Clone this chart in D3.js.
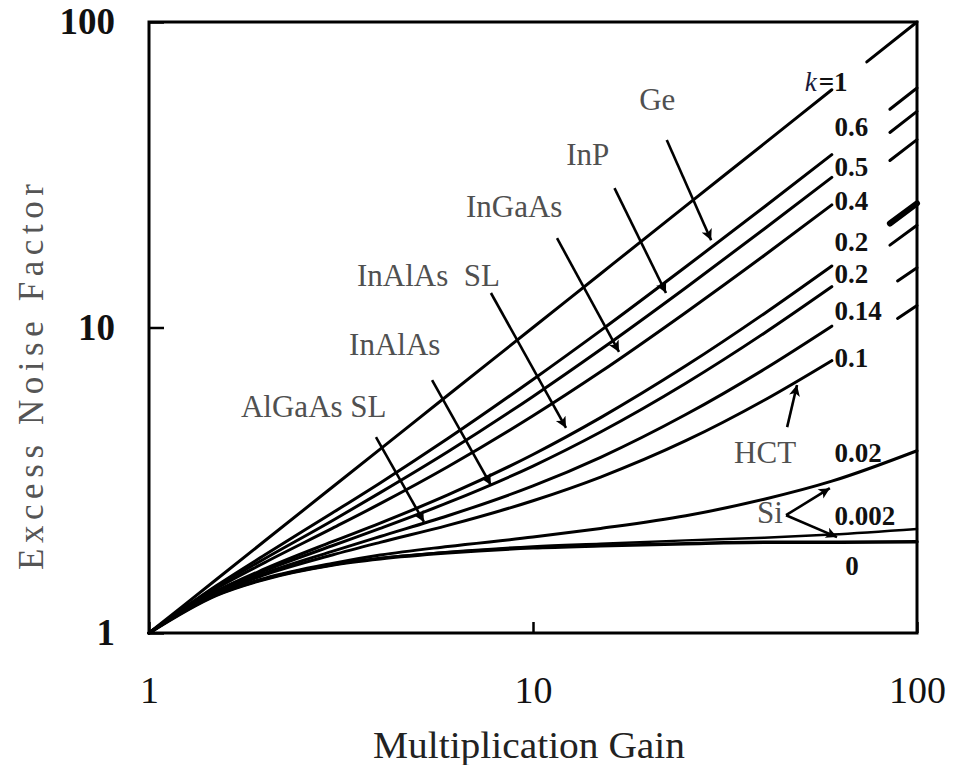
<!DOCTYPE html>
<html>
<head>
<meta charset="utf-8">
<script src="https://cdn.jsdelivr.net/npm/d3@7"></script>
<style>
  body { margin: 0; background: #fff; }
  text { font-family: "Liberation Serif", "Times New Roman", serif; }
</style>
</head>
<body>
<svg id="chart" width="954" height="765"></svg>
<script>
// Excess noise factor versus multiplication gain for several ionization ratios k.
const gainMain   = [1, 1.5, 2, 3, 4, 6, 10, 15, 25, 40, 60];
const noiseK1    = [1, 1.5, 2, 3, 4, 6, 10, 15, 25, 40, 60];
const noiseK06   = [1, 1.43, 1.8, 2.47, 3.1, 4.33, 6.76, 9.77, 15.8, 24.8, 36.8];
const noiseK05   = [1, 1.42, 1.75, 2.33, 2.88, 3.92, 5.95, 8.47, 13.5, 21.0, 31.0];
const noiseK04   = [1, 1.4, 1.7, 2.2, 2.65, 3.5, 5.14, 7.16, 11.2, 17.2, 25.2];
const noiseK024  = [1, 1.37, 1.62, 1.99, 2.29, 2.83, 3.84, 5.07, 7.49, 11.1, 15.9];
const noiseK02   = [1, 1.37, 1.6, 1.93, 2.2, 2.67, 3.52, 4.55, 6.57, 9.58, 13.6];
const noiseK014  = [1, 1.36, 1.57, 1.85, 2.07, 2.42, 3.03, 3.76, 5.19, 7.3, 10.1];
const noiseK01   = [1, 1.35, 1.55, 1.8, 1.98, 2.25, 2.71, 3.24, 4.26, 5.78, 7.79];

// Low-k curves run across the whole gain range
const gainFull    = [1, 1.5, 2, 3, 4, 6, 10, 15, 25, 40, 60, 100];
const noiseK002   = [1, 1.34, 1.51, 1.69, 1.8, 1.92, 2.06, 2.2, 2.42, 2.74, 3.14, 3.95];
const noiseK0002  = [1, 1.33, 1.5, 1.67, 1.76, 1.84, 1.92, 1.96, 2.01, 2.05, 2.1, 2.19];
const noiseK0     = [1, 1.33, 1.5, 1.67, 1.75, 1.83, 1.9, 1.93, 1.96, 1.98, 1.98, 1.99];

// Short continuations beyond the labels, near gain 100
const gainTailK1    = [74, 100];
const tailK1        = [74, 100];
const gainTail      = [85, 100];
const tailK06       = [51.8, 60.8];
const tailK05       = [43.5, 51.0];
const tailK04       = [35.2, 41.2];
const tailK024      = [21.9, 25.5];
const tailK02       = [18.6, 21.6];
const gainTailShort = [89, 100];
const tailK014      = [14.2, 15.7];
const tailK01       = [10.7, 11.8];

// Curve labels at the right end
const curveLabels = ["k=1", "0.6", "0.5", "0.4", "0.2", "0.2", "0.14", "0.1", "0.02", "0.002", "0"];
const labelGain   = [51, 61, 61, 61, 61, 61, 61, 61, 61, 61, 65];
const labelNoise  = [59.4, 42.4, 31.3, 24.2, 17.8, 13.99, 10.6, 7.43, 3.63, 2.26, 1.55];

// Material annotations
const materials     = ["Ge", "InP", "InGaAs", "InAlAs  SL", "InAlAs", "AlGaAs SL", "HCT", "Si"];
const materialGain  = [18.9, 12.2, 6.69, 3.48, 3.32, 1.736, 33.4, 38.3];
const materialNoise = [51.5, 34.0, 23.0, 13.67, 8.13, 5.09, 3.60, 2.29];

// Pointer arrows (start and tip in gain / noise units)
const arrowFromGain  = [22.3, 16.3, 11.55, 7.77, 5.46, 3.90, 45.9, 45.6, 45.6];
const arrowFromNoise = [41.1, 28.6, 19.6, 12.97, 6.73, 4.38, 4.72, 2.43, 2.43];
const arrowToGain    = [29.1, 22.2, 16.75, 12.19, 7.77, 5.20, 48.7, 59.3, 61.9];
const arrowToNoise   = [19.3, 12.97, 8.32, 4.69, 3.05, 2.31, 6.48, 2.98, 2.06];

const axisTicks = [1, 10, 100];

const svg = d3.select("#chart");
const plot = { left: 149, right: 917, top: 22, bottom: 633 };

const x = d3.scaleLog().domain([1, 100]).range([plot.left, plot.right]);
const y = d3.scaleLog().domain([1, 100]).range([plot.bottom, plot.top]);

const zip = (gs, fs) => gs.map((g, i) => [g, fs[i]]);

const series = [
  { pts: zip(gainMain, noiseK1), w: 3 },
  { pts: zip(gainMain, noiseK06), w: 3 },
  { pts: zip(gainMain, noiseK05), w: 3 },
  { pts: zip(gainMain, noiseK04), w: 3 },
  { pts: zip(gainMain, noiseK024), w: 3 },
  { pts: zip(gainMain, noiseK02), w: 3 },
  { pts: zip(gainMain, noiseK014), w: 3 },
  { pts: zip(gainMain, noiseK01), w: 3 },
  { pts: zip(gainFull, noiseK002), w: 3 },
  { pts: zip(gainFull, noiseK0002), w: 2.5 },
  { pts: zip(gainFull, noiseK0), w: 3.5 },
  { pts: zip(gainTailK1, tailK1), w: 3 },
  { pts: zip(gainTail, tailK06), w: 3 },
  { pts: zip(gainTail, tailK05), w: 3 },
  { pts: zip(gainTail, tailK04), w: 3 },
  { pts: zip(gainTail, tailK024), w: 6 },
  { pts: zip(gainTail, tailK02), w: 3 },
  { pts: zip(gainTailShort, tailK014), w: 3 },
  { pts: zip(gainTailShort, tailK01), w: 3 }
];

const line = d3.line()
  .x(d => x(d[0]))
  .y(d => y(d[1]))
  .curve(d3.curveMonotoneX);

svg.append("defs").append("marker")
  .attr("id", "head")
  .attr("viewBox", "0 0 10 10")
  .attr("refX", 10).attr("refY", 5)
  .attr("markerUnits", "userSpaceOnUse")
  .attr("markerWidth", 14).attr("markerHeight", 11)
  .attr("orient", "auto")
  .append("path").attr("d", "M0,0 L10,5 L0,10 L2.5,5 Z").attr("fill", "#000");

// Curves
svg.append("g").selectAll("path")
  .data(series)
  .join("path")
  .attr("d", d => line(d.pts))
  .attr("fill", "none")
  .attr("stroke", "#000")
  .attr("stroke-width", d => d.w)
  .attr("stroke-linecap", "round")
  .attr("stroke-linejoin", "round");

// Frame
svg.append("rect")
  .attr("x", plot.left).attr("y", plot.top)
  .attr("width", plot.right - plot.left).attr("height", plot.bottom - plot.top)
  .attr("fill", "none").attr("stroke", "#000").attr("stroke-width", 3);

// Axes
const yAxis = svg.append("g")
  .attr("transform", `translate(${plot.left},0)`)
  .call(d3.axisLeft(y).tickValues(axisTicks).tickFormat(d3.format("d"))
        .tickSizeInner(-15).tickSizeOuter(0).tickPadding(34));
yAxis.select(".domain").remove();
yAxis.selectAll("line").attr("stroke", "#000").attr("stroke-width", 2.5);
yAxis.selectAll("text")
  .attr("font-family", "Liberation Serif, serif")
  .attr("font-size", 37).attr("font-weight", "bold").attr("fill", "#111");

const xAxis = svg.append("g")
  .attr("transform", `translate(0,${plot.bottom})`)
  .call(d3.axisBottom(x).tickValues(axisTicks).tickFormat(d3.format("d"))
        .tickSizeInner(-11).tickSizeOuter(0).tickPadding(0));
xAxis.select(".domain").remove();
xAxis.selectAll("line").attr("stroke", "#000").attr("stroke-width", 2.5);
xAxis.selectAll("text")
  .attr("y", 70).attr("dy", 0)
  .attr("font-family", "Liberation Serif, serif")
  .attr("font-size", 38).attr("fill", "#111");

// Axis titles
svg.append("text")
  .attr("x", 529).attr("y", 758)
  .attr("text-anchor", "middle")
  .attr("font-size", 37).attr("fill", "#222")
  .attr("textLength", 312).attr("lengthAdjust", "spacingAndGlyphs")
  .text("Multiplication Gain");

svg.append("text")
  .attr("transform", "translate(43,377) rotate(-90)")
  .attr("text-anchor", "middle")
  .attr("font-size", 35).attr("fill", "#555")
  .attr("textLength", 386).attr("lengthAdjust", "spacing")
  .text("Excess Noise Factor");

// Curve labels
const cl = svg.append("g").selectAll("text")
  .data(curveLabels)
  .join("text")
  .attr("x", (d, i) => x(labelGain[i]))
  .attr("y", (d, i) => y(labelNoise[i]))
  .attr("font-size", 27).attr("font-weight", "bold").attr("fill", "#111");
cl.each(function(d) {
  const t = d3.select(this);
  if (d.startsWith("k=")) {
    t.append("tspan").attr("font-style", "italic").attr("font-weight", "normal")
      .attr("fill", "#1a1a3a").text("k");
    t.append("tspan").attr("dx", 2).text(d.slice(1));
  } else {
    t.text(d);
  }
});

// Material labels
svg.append("g").selectAll("text")
  .data(materials)
  .join("text")
  .attr("x", (d, i) => x(materialGain[i]))
  .attr("y", (d, i) => y(materialNoise[i]))
  .attr("font-size", 31).attr("fill", "#505050")
  .style("white-space", "pre")
  .text(d => d);

// Arrows
svg.append("g").selectAll("line")
  .data(arrowFromGain)
  .join("line")
  .attr("x1", (d, i) => x(arrowFromGain[i]))
  .attr("y1", (d, i) => y(arrowFromNoise[i]))
  .attr("x2", (d, i) => x(arrowToGain[i]))
  .attr("y2", (d, i) => y(arrowToNoise[i]))
  .attr("stroke", "#000").attr("stroke-width", 2.6)
  .attr("marker-end", "url(#head)");
</script>
</body>
</html>
